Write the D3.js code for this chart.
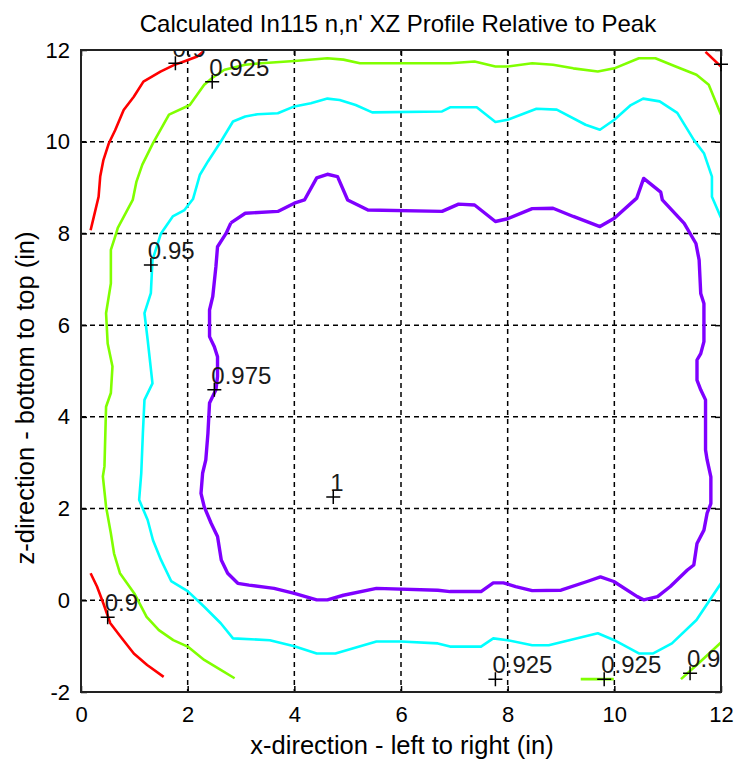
<!DOCTYPE html>
<html>
<head>
<meta charset="utf-8">
<script src="https://d3js.org/d3.v7.min.js"></script>
<style>
  body { margin: 0; background: #fff; }
  text { font-family: "Liberation Sans", Arial, sans-serif; }
</style>
</head>
<body>
<svg id="chart" width="735" height="759"></svg>
<script>

// axis ticks
const xTicks = [0, 2, 4, 6, 8, 10, 12]
const yTicks = [-2, 0, 2, 4, 6, 8, 10, 12]

// contour level 0.9 (red)
const redTop = [[0.18,8.07],[0.24,8.36],[0.33,8.80],[0.36,9.24],[0.42,9.60],[0.52,9.96],[0.64,10.25],[0.80,10.69],[0.99,10.98],[1.17,11.31],[1.49,11.53],[1.74,11.67],[1.93,11.75],[2.18,11.86],[2.30,11.97]]
const redBottom = [[0.18,0.59],[0.30,0.30],[0.42,-0.07],[0.55,-0.50],[0.74,-0.79],[0.99,-1.16],[1.24,-1.41],[1.55,-1.67]]
const redCorner = [[11.71,11.96],[12.0,11.64]]

// contour level 0.925 (green)
const greenMain = [[2.88,-1.70],[2.62,-1.52],[2.31,-1.30],[2.0,-1.01],[1.73,-0.87],[1.46,-0.65],[1.23,-0.36],[1.0,0.15],[0.73,0.59],[0.62,1.02],[0.56,1.46],[0.47,2.04],[0.41,2.7],[0.44,2.92],[0.47,4.22],[0.56,4.52],[0.59,5.1],[0.5,5.6],[0.47,6.26],[0.56,6.91],[0.56,7.64],[0.66,8.0],[0.69,8.12],[0.97,8.73],[1.04,9.13],[1.15,9.50],[1.35,9.97],[1.65,10.59],[2.04,10.80],[2.31,11.24],[2.46,11.39],[2.69,11.57],[3.08,11.68],[3.38,11.71],[4.0,11.76],[4.62,11.82],[4.92,11.79],[5.23,11.71],[6.92,11.71],[7.38,11.75],[7.77,11.64],[8.0,11.64],[8.46,11.71],[8.85,11.68],[9.23,11.60],[9.69,11.53],[10.0,11.60],[10.46,11.82],[10.77,11.82],[11.15,11.64],[11.54,11.46],[11.77,11.24],[12.0,10.59]]
const greenPiece = [[9.37,-1.72],[9.99,-1.72]]
const greenCorner = [[11.25,-1.72],[11.6,-1.35],[12.0,-0.92]]

// contour level 0.95 (cyan)
const cyanMain = [[12.0,0.37],[11.54,-0.43],[11.08,-0.94],[10.73,-1.16],[10.46,-1.16],[10.0,-0.87],[9.69,-0.72],[8.77,-0.98],[8.46,-0.98],[8.0,-0.87],[7.73,-0.83],[7.5,-1.01],[6.92,-1.01],[6.69,-0.94],[6.0,-0.90],[5.54,-0.90],[4.77,-1.16],[4.42,-1.16],[4.0,-1.0],[3.54,-0.87],[2.85,-0.83],[2.62,-0.50],[2.31,-0.14],[2.0,0.2],[1.69,0.42],[1.5,0.88],[1.35,1.31],[1.25,1.75],[1.09,2.19],[1.13,2.77],[1.16,3.64],[1.19,4.37],[1.34,4.73],[1.25,5.68],[1.19,6.26],[1.31,6.70],[1.34,7.42],[1.5,8.0],[1.72,8.37],[1.94,8.51],[2.1,8.75],[2.23,9.28],[2.38,9.57],[2.62,10.0],[2.85,10.44],[3.08,10.55],[3.31,10.60],[3.69,10.62],[4.0,10.77],[4.31,10.84],[4.62,10.94],[4.85,10.91],[5.15,10.80],[5.46,10.64],[6.77,10.66],[6.92,10.75],[7.42,10.75],[7.77,10.43],[8.0,10.48],[8.54,10.72],[8.92,10.70],[9.46,10.37],[9.73,10.26],[10.0,10.48],[10.31,10.80],[10.54,10.94],[10.85,10.88],[11.18,10.63],[11.49,10.04],[11.68,9.75],[11.83,9.24],[11.83,8.80],[12.0,8.34]]

// contour level 0.975 (violet), closed
const violetLoop = [[2.81,8.23],[3.08,8.44],[3.69,8.48],[4.0,8.66],[4.19,8.73],[4.42,9.21],[4.62,9.29],[4.81,9.24],[5.0,8.73],[5.38,8.51],[6.77,8.48],[7.08,8.64],[7.38,8.62],[7.77,8.26],[8.0,8.32],[8.46,8.54],[8.85,8.55],[9.23,8.37],[9.73,8.15],[10.0,8.33],[10.42,8.77],[10.55,9.20],[10.87,8.90],[10.9,8.73],[11.31,8.22],[11.53,7.78],[11.59,7.42],[11.62,6.69],[11.68,6.47],[11.68,5.64],[11.62,5.38],[11.55,5.24],[11.55,4.80],[11.62,4.59],[11.71,4.37],[11.71,3.28],[11.74,3.06],[11.81,2.69],[11.81,2.11],[11.74,1.90],[11.68,1.53],[11.55,1.24],[11.49,0.77],[11.37,0.66],[11.05,0.30],[10.81,0.08],[10.55,0.01],[10.43,0.08],[9.99,0.41],[9.74,0.51],[9.49,0.41],[9.0,0.22],[8.46,0.21],[8.15,0.30],[7.92,0.38],[7.73,0.38],[7.5,0.19],[6.92,0.19],[6.69,0.22],[5.54,0.26],[4.92,0.11],[4.62,0.01],[4.42,0.01],[4.0,0.15],[3.62,0.26],[3.15,0.33],[2.94,0.37],[2.75,0.59],[2.63,0.88],[2.56,1.39],[2.44,1.68],[2.31,2.04],[2.25,2.33],[2.28,2.77],[2.34,3.06],[2.38,3.64],[2.41,4.30],[2.53,4.59],[2.56,4.88],[2.56,5.31],[2.5,5.53],[2.41,5.75],[2.41,6.33],[2.47,6.62],[2.53,7.28],[2.56,7.71],[2.72,8.0],[2.81,8.23]]

// contour labels (clabel); the one at the right edge shows only its marker
const labelText = ["0.9", "0.925", "0.95", "0.975", "1", "0.9", "0.925", "0.925", "0.9", "0.9"]
const labelX = [1.77, 2.46, 1.31, 2.50, 4.73, 0.50, 7.77, 9.81, 11.42, 12.0]
const labelY = [11.71, 11.31, 7.31, 4.59, 2.25, -0.37, -1.72, -1.72, -1.59, 11.69]

const marginLeft = 81, marginTop = 50, chartWidth = 640, chartHeight = 642

const svg = d3.select("#chart")
const g = svg.append("g").attr("transform", "translate(" + marginLeft + "," + marginTop + ")")

const x = d3.scaleLinear().domain([0, 12]).range([0, chartWidth])
const y = d3.scaleLinear().domain([-2, 12]).range([chartHeight, 0])

svg.append("defs").append("clipPath").attr("id", "plotClip")
  .append("rect").attr("width", chartWidth).attr("height", chartHeight)

// dashed grid
g.append("g").selectAll("line").data(xTicks.slice(1, -1)).join("line")
  .attr("x1", d => x(d)).attr("x2", d => x(d)).attr("y1", 0).attr("y2", chartHeight)
  .attr("stroke", "#000").attr("stroke-width", 1.5).attr("stroke-dasharray", "5,4")
g.append("g").selectAll("line").data(yTicks.slice(1, -1)).join("line")
  .attr("y1", d => y(d)).attr("y2", d => y(d)).attr("x1", 0).attr("x2", chartWidth)
  .attr("stroke", "#000").attr("stroke-width", 1.5).attr("stroke-dasharray", "5,4")

// contour lines
const line = d3.line().x(d => x(d[0])).y(d => y(d[1]))
const contours = [
  { pts: redTop, color: "#ff0000", w: 2.6 },
  { pts: redBottom, color: "#ff0000", w: 2.6 },
  { pts: redCorner, color: "#ff0000", w: 2.6 },
  { pts: greenMain, color: "#80ff00", w: 2.6 },
  { pts: greenPiece, color: "#80ff00", w: 2.6 },
  { pts: greenCorner, color: "#80ff00", w: 2.6 },
  { pts: cyanMain, color: "#00ffff", w: 2.6 },
  { pts: violetLoop, color: "#7f00ff", w: 3.4 }
]
g.append("g").attr("clip-path", "url(#plotClip)")
  .selectAll("path").data(contours).join("path")
  .attr("d", d => line(d.pts))
  .attr("fill", "none")
  .attr("stroke", d => d.color)
  .attr("stroke-width", d => d.w)
  .attr("stroke-linejoin", "round")

// axes box with inward ticks
const axisStyle = sel => {
  sel.select(".domain").remove()
  sel.selectAll(".tick line").attr("stroke", "#000").attr("stroke-width", 1.5)
  sel.selectAll(".tick text").attr("font-size", 22).attr("fill", "#000")
    .attr("font-family", "Liberation Sans, Arial, sans-serif")
}
g.append("g").attr("transform", "translate(0," + chartHeight + ")")
  .call(d3.axisBottom(x).tickValues(xTicks).tickSize(-6).tickPadding(14).tickFormat(d => String(d)))
  .call(axisStyle)
g.append("g")
  .call(d3.axisLeft(y).tickValues(yTicks).tickSize(-6).tickPadding(11).tickFormat(d => String(d)))
  .call(axisStyle)
g.append("g")
  .call(d3.axisTop(x).tickValues(xTicks).tickSize(-6).tickFormat(""))
  .call(axisStyle)
g.append("g").attr("transform", "translate(" + chartWidth + ",0)")
  .call(d3.axisRight(y).tickValues(yTicks).tickSize(-6).tickFormat(""))
  .call(axisStyle)
g.append("rect").attr("width", chartWidth).attr("height", chartHeight)
  .attr("fill", "none").attr("stroke", "#222").attr("stroke-width", 2)

// contour labels: + marker and clipped text
const labels = labelText.map((t, i) => ({ t: t, x: labelX[i], y: labelY[i] }))
g.append("g").attr("clip-path", "url(#plotClip)")
  .selectAll("text").data(labels.filter(d => d.x < 12)).join("text")
  .attr("x", d => x(d.x) - 3)
  .attr("y", d => y(d.y) - 6)
  .attr("font-size", 24)
  .attr("fill", "#1a1a1a")
  .text(d => d.t)
g.append("g").selectAll("path").data(labels).join("path")
  .attr("transform", d => "translate(" + x(d.x) + "," + y(d.y) + ")")
  .attr("d", "M-7,0H7M0,-7V7")
  .attr("stroke", "#000").attr("stroke-width", 1.5)

// title and axis labels
svg.append("text").attr("x", marginLeft + chartWidth / 2 - 3).attr("y", 32)
  .attr("text-anchor", "middle").attr("font-size", 24)
  .text("Calculated In115 n,n' XZ Profile Relative to Peak")
svg.append("text").attr("x", marginLeft + chartWidth / 2 + 1).attr("y", 754)
  .attr("text-anchor", "middle").attr("font-size", 25.5)
  .text("x-direction - left to right (in)")
svg.append("text").attr("transform", "rotate(-90)")
  .attr("x", -398).attr("y", 34)
  .attr("text-anchor", "middle").attr("font-size", 25.5)
  .text("z-direction - bottom to top (in)")

</script>
</body>
</html>
